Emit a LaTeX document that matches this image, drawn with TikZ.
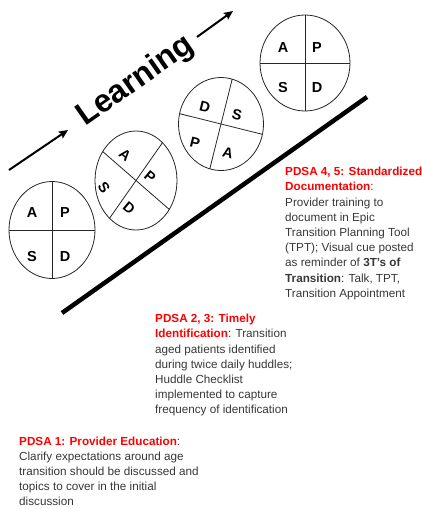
\documentclass[tikz,border=0pt]{standalone}
\usepackage{fontspec}
\setmainfont{Liberation Sans}
\usetikzlibrary{shapes.geometric,arrows.meta}

\definecolor{pdsared}{RGB}{255,0,0}
\definecolor{bodygray}{RGB}{55,55,55}

\tikzset{
  cycle/.style={draw=black!85, line width=0.8pt, ellipse, inner sep=0pt, outer sep=0pt},
  split/.style={draw=black!85, line width=0.8pt},
  letter/.style={font=\fontsize{14.5}{14.5}\selectfont\bfseries, inner sep=0pt},
  note/.style={font=\fontsize{11.7}{15.2}\selectfont, text=bodygray, align=left, anchor=north west, inner sep=0pt},
  learnarrow/.style={line width=2pt, -{Stealth[length=9pt,width=8pt,inset=1.5pt]}},
}
\newcommand{\hd}[1]{\textcolor{pdsared}{\textbf{#1}}}

\begin{document}
\begin{tikzpicture}[x=1pt, y=-1pt]

    \useasboundingbox (0,0) rectangle (422,509);

    %% Ramp of PDSA cycles

    % Ramp
    \draw[line width=4.5pt] (62,313) -- (367,97);

    % Learning arrow
    \node[font=\fontsize{32}{32}\selectfont\bfseries, rotate=35, anchor=base west, inner sep=0pt] (learn) at (85,127) {Learning};
    \draw[learnarrow] (9,170) -- (68,130);
    \draw[learnarrow] (197,37) -- (233,11);

    % Cycle 1
    \node[cycle, minimum width=86pt, minimum height=97pt] (c1) at (52,230) {};
    \draw[split] (c1.west) -- (c1.east);
    \draw[split] (c1.north) -- (c1.south);
    \node[letter] (a1) at (32,213) {A};
    \node[letter] (p1) at (65,213) {P};
    \node[letter] (s1) at (32,257) {S};
    \node[letter] (d1) at (65,257) {D};

    % Cycle 2
    \node[cycle, minimum width=82pt, minimum height=99pt] (c2) at (136,180.5) {};
    \draw[split] (c2.139) -- (c2.-41);
    \draw[split] (c2.55) -- (c2.235);
    \node[letter, rotate=-40] (a2) at (125,155) {A};
    \node[letter, rotate=-40] (p2) at (150,177) {P};
    \node[letter, rotate=-55] (s2) at (104,188) {S};
    \node[letter, rotate=-40] (d2) at (129,208) {D};

    % Cycle 3
    \node[cycle, minimum width=85pt, minimum height=93pt] (c3) at (221,124) {};
    \draw[split] (c3.166) -- (c3.-14);
    \draw[split] (c3.76) -- (c3.256);
    \node[letter, rotate=-14] (d3) at (205,107) {D};
    \node[letter, rotate=-14] (s3) at (237,115) {S};
    \node[letter, rotate=-14] (p3) at (195,143) {P};
    \node[letter, rotate=-14] (a3) at (228,153) {A};

    % Cycle 4
    \node[cycle, minimum width=90pt, minimum height=96pt] (c4) at (305,63) {};
    \draw[split] (c4.west) -- (c4.east);
    \draw[split] (c4.north) -- (c4.south);
    \node[letter] (a4) at (283,48) {A};
    \node[letter] (p4) at (317,48) {P};
    \node[letter] (s4) at (283,88) {S};
    \node[letter] (d4) at (317,88) {D};

    %% Notes

    \node[note] (pdsa45) at (285,167) {%
      \hd{PDSA 4, 5: Standardized}\\
      \hd{Documentation}:\\
      Provider training to\\
      document in Epic\\
      Transition Planning Tool\\
      (TPT); Visual cue posted\\
      as reminder of \textbf{3T's of}\\
      \textbf{Transition}: Talk, TPT,\\
      Transition Appointment};

    \node[note] (pdsa23) at (155,314) {%
      \hd{PDSA 2, 3: Timely}\\
      \hd{Identification}: Transition\\
      aged patients identified\\
      during twice daily huddles;\\
      Huddle Checklist\\
      implemented to capture\\
      frequency of identification};

    \node[note] (pdsa1) at (19,436.5) {%
      \hd{PDSA 1: Provider Education}:\\
      Clarify expectations around age\\
      transition should be discussed and\\
      topics to cover in the initial\\
      discussion};

\end{tikzpicture}
\end{document}
